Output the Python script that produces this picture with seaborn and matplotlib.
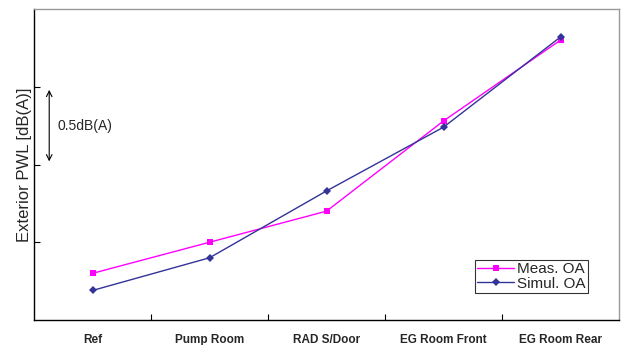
import numpy as np
import pandas as pd
import matplotlib
matplotlib.use("Agg")
import matplotlib.pyplot as plt
from matplotlib.ticker import FixedLocator
import seaborn as sns

# values, in dB(A) above the axis bottom
positions = ["Ref", "Pump Room", "RAD S/Door", "EG Room Front", "EG Room Rear"]
meas_oa = [0.30, 0.50, 0.70, 1.28, 1.80]
simul_oa = [0.19, 0.40, 0.83, 1.24, 1.82]

df = pd.DataFrame({
    "pos": positions * 2,
    "pwl": meas_oa + simul_oa,
    "series": ["Meas. OA"] * 5 + ["Simul. OA"] * 5,
})

sns.set_style("white")
plt.rcParams["font.family"] = ["Liberation Sans", "DejaVu Sans"]

fig = plt.figure(figsize=(6.26, 3.45), dpi=100)
ax = fig.add_axes([34 / 626, 25 / 345, 585 / 626, 311 / 345])

sns.lineplot(data=df, x="pos", y="pwl", hue="series", style="series",
             palette={"Meas. OA": "#FF00FF", "Simul. OA": "#333399"},
             markers={"Meas. OA": "s", "Simul. OA": "D"},
             dashes=False, markersize=4.5, markeredgewidth=0, linewidth=1,
             sort=False, ax=ax)

ax.set_xlim(-0.5, 4.5)
ax.set_ylim(0, 2.0)
ax.set_xlabel("")
ax.set_ylabel("Exterior PWL [dB(A)]", fontsize=12, labelpad=-2)

ax.set_xticks(range(len(positions)))
ax.set_xticklabels(positions, fontsize=8.5, fontweight="bold")
ax.xaxis.set_minor_locator(FixedLocator(np.arange(0.5, 4, 1)))
ax.tick_params(axis="x", which="major", length=0, pad=10)
ax.tick_params(axis="x", which="minor", direction="in", length=4, width=0.8,
               color="black", bottom=True)
ax.set_yticks([0.5, 1.0, 1.5])
ax.set_yticklabels([])
ax.tick_params(axis="y", direction="in", length=4, width=0.8, color="black", left=True)

for s in ["left", "bottom"]:
    ax.spines[s].set_color("black")
    ax.spines[s].set_linewidth(1)
for s in ["top", "right"]:
    ax.spines[s].set_color("#999999")
    ax.spines[s].set_linewidth(1)

# scale arrow for one interval
ax.annotate("", xy=(-0.37, 1.48), xytext=(-0.37, 1.02),
            arrowprops=dict(arrowstyle="<->", color="black", lw=0.8,
                            shrinkA=0, shrinkB=0))
ax.text(-0.30, 1.25, "0.5dB(A)", fontsize=10, va="center", ha="left")

leg = ax.legend(loc="lower right", bbox_to_anchor=(0.947, 0.087), fontsize=11,
                frameon=True, fancybox=False, handlelength=2.4, handletextpad=0.2,
                borderpad=0.15, labelspacing=0.05, borderaxespad=0)
leg.get_frame().set_edgecolor("black")
leg.get_frame().set_linewidth(0.8)

fig.savefig("out.png", dpi=100)
